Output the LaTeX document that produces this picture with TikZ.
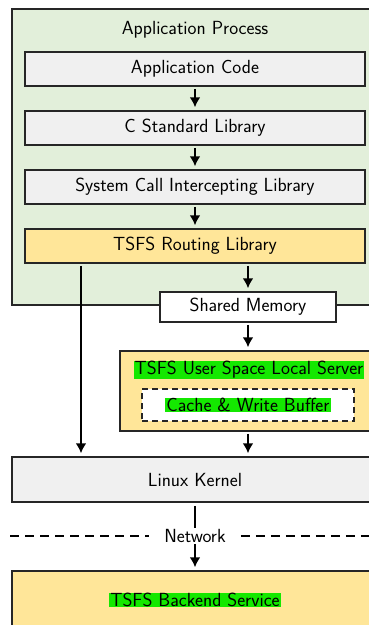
\documentclass[tikz,border=0pt]{standalone}
\usetikzlibrary{positioning,arrows.meta}

\definecolor{procgreen}{RGB}{226,239,218}
\definecolor{layergray}{RGB}{240,240,240}
\definecolor{tsfsorange}{RGB}{255,230,153}
\definecolor{hlgreen}{RGB}{20,232,0}

\begin{document}
\begin{tikzpicture}
    [x=1pt,y=-1pt,
    font=\sffamily\fontsize{19pt}{22pt}\selectfont,
    box/.style={draw=black!85,line width=1.5pt,inner sep=0pt,minimum height=34pt},
    layer/.style={box,fill=layergray,minimum width=340pt},
    hl/.style={fill=hlgreen,inner xsep=1pt,inner ysep=0.5pt},
    flow/.style={line width=2.8pt,-{Latex[length=10pt,width=11pt]},shorten <=2pt,shorten >=3pt}]
    \useasboundingbox (0,0) rectangle (369,625);
    \clip (0,0) rectangle (369,625);
    % application process
    \node[box,fill=procgreen,minimum width=366pt,minimum height=296pt] (proc) at (195,157) {};
    \node (proctitle) at (195,30) {Application Process};
    \node[layer] (appcode) at (195,69) {Application Code};
    \node[layer] (clib) at (195,128) {C Standard Library};
    \node[layer] (syscall) at (195,187) {System Call Intercepting Library};
    \node[layer,fill=tsfsorange] (routing) at (195,246) {TSFS Routing Library};
    \node[box,fill=white,minimum width=176pt,minimum height=30pt] (shm) at (248,307) {Shared Memory};
    % local server
    \node[box,fill=tsfsorange,minimum width=258pt,minimum height=80pt] (server) at (249,391) {};
    \node[hl] (servertitle) at (249,370) {TSFS User Space Local Server};
    \node[box,dashed,dash pattern=on 6pt off 4pt,fill=white,minimum width=212pt,minimum height=32pt] (cache) at (248,405) {};
    \node[hl] (cachetitle) at (248,405) {Cache \& Write Buffer};
    % kernel and backend
    \node[box,fill=layergray,minimum width=366pt,minimum height=45pt] (kernel) at (195,479.5) {Linux Kernel};
    \node[inner sep=1pt] (network) at (195,536) {Network};
    \node[box,fill=tsfsorange,minimum width=366pt,minimum height=62pt] (backend) at (195,602) {};
    \node[hl] (backendtitle) at (195,600) {TSFS Backend Service};
    \coordinate (bypass) at (81,0);
    \coordinate (netleft) at (10,536);
    \coordinate (netright) at (385,536);

    \draw[flow] (appcode) -- (clib);
    \draw[flow] (clib) -- (syscall);
    \draw[flow] (syscall) -- (routing);
    \draw[flow] (shm |- routing.south) -- (shm.north);
    \draw[flow] (shm.south) -- (shm.south |- server.north);
    \draw[flow] (shm |- server.south) -- (shm |- kernel.north);
    \draw[flow] (bypass |- routing.south) -- (bypass |- kernel.north);
    \draw[line width=2.8pt,shorten <=3pt] (kernel.south) -- (network.north);
    \draw[flow,shorten <=0pt] (network.south) -- (backend.north);
    \draw[line width=1.5pt,dash pattern=on 9pt off 6pt] (netleft) -- ([xshift=-14pt]network.west);
    \draw[line width=1.5pt,dash pattern=on 9pt off 6pt] ([xshift=14pt]network.east) -- (netright);
\end{tikzpicture}
\end{document}
